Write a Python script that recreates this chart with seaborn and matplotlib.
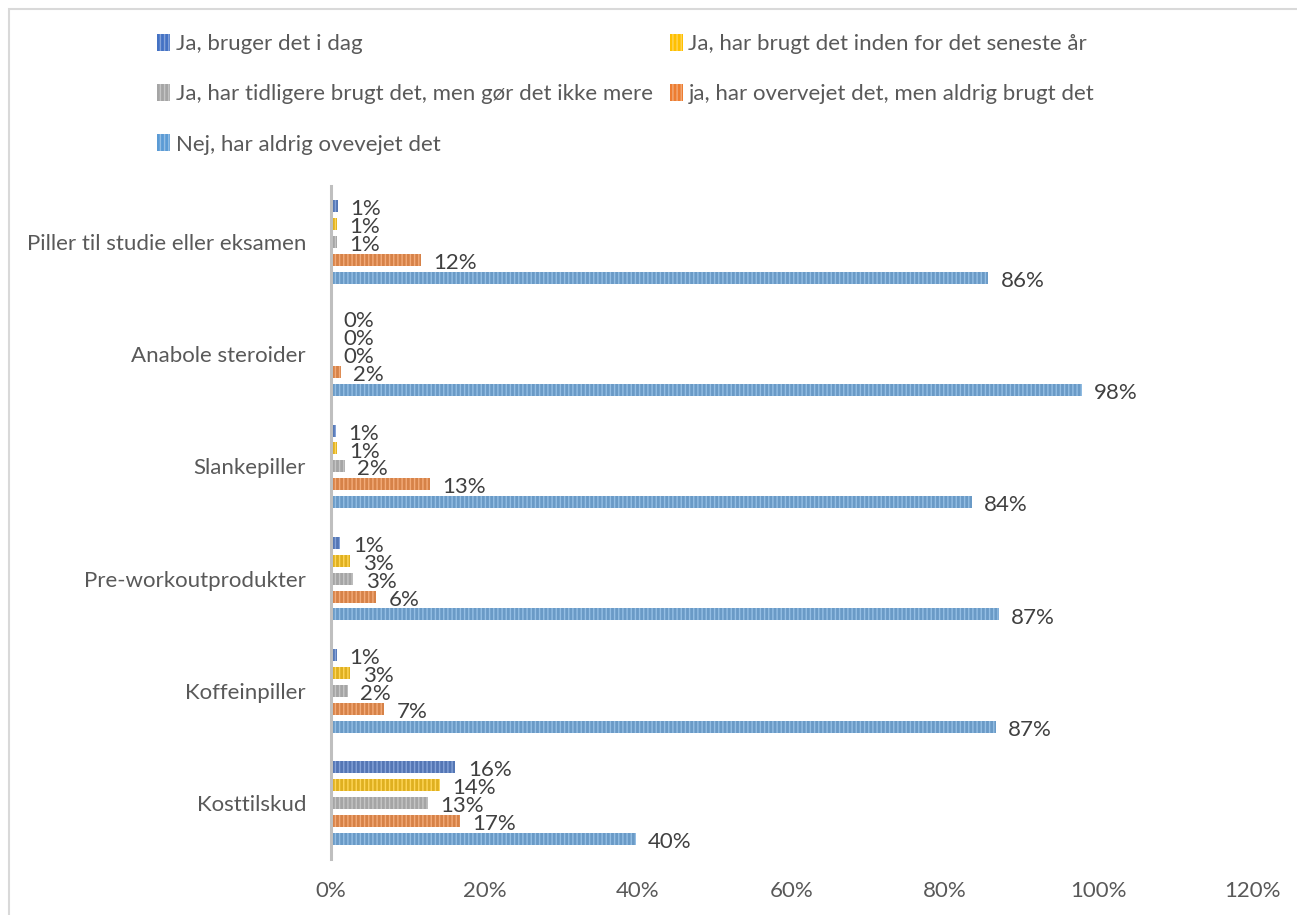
import matplotlib
matplotlib.use("Agg")
import matplotlib.pyplot as plt
import matplotlib.colors as mcolors
from matplotlib.patches import Patch, Rectangle
from matplotlib.ticker import PercentFormatter
import seaborn as sns
import pandas as pd

categories = ["Piller til studie eller eksamen", "Anabole steroider", "Slankepiller",
              "Pre-workoutprodukter", "Koffeinpiller", "Kosttilskud"]
series = ["Ja, bruger det i dag",
          "Ja, har brugt det inden for det seneste år",
          "Ja, har tidligere brugt det, men gør det ikke mere",
          "ja, har overvejet det, men aldrig brugt det",
          "Nej, har aldrig ovevejet det"]
# values (fraction) per series, in category order
v_bruger = [0.009, 0.0, 0.006, 0.012, 0.008, 0.162]
v_seneste = [0.008, 0.0, 0.008, 0.025, 0.025, 0.142]
v_tidligere = [0.008, 0.0, 0.018, 0.029, 0.022, 0.126]
v_overvejet = [0.117, 0.013, 0.129, 0.059, 0.069, 0.168]
v_aldrig = [0.856, 0.978, 0.835, 0.870, 0.866, 0.397]
# data labels as shown
l_bruger = ["1%", "0%", "1%", "1%", "1%", "16%"]
l_seneste = ["1%", "0%", "1%", "3%", "3%", "14%"]
l_tidligere = ["1%", "0%", "2%", "3%", "2%", "13%"]
l_overvejet = ["12%", "2%", "13%", "6%", "7%", "17%"]
l_aldrig = ["86%", "98%", "84%", "87%", "87%", "40%"]

colors = ["#4472C4", "#FFC000", "#A5A5A5", "#ED7D31", "#5B9BD5"]

all_vals = [v_bruger, v_seneste, v_tidligere, v_overvejet, v_aldrig]
all_labels = [l_bruger, l_seneste, l_tidligere, l_overvejet, l_aldrig]

rows = []
for s, vals in zip(series, all_vals):
    for c, v in zip(categories, vals):
        rows.append({"Kategori": c, "Serie": s, "Andel": v})
df = pd.DataFrame(rows)

sns.set_theme(style="white")
plt.rcParams["font.family"] = ["Lato", "DejaVu Sans"]
plt.rcParams["hatch.linewidth"] = 1.0

FS = 16

fig = plt.figure(figsize=(12.97, 9.15), dpi=100)
ax = fig.add_axes([331/1297, 1-859/915, (1252-331)/1297, (859-186)/915])

sns.barplot(data=df, y="Kategori", x="Andel", hue="Serie", order=categories,
            hue_order=series, palette=colors, orient="h", width=0.8, gap=0.33,
            ax=ax, legend=False, linewidth=0)

def lighter(c, f=0.35):
    r, g, b = mcolors.to_rgb(c)
    return (r + (1-r)*f, g + (1-g)*f, b + (1-b)*f)

for cont, col, labs in zip(ax.containers, colors, all_labels):
    for p in cont:
        p.set_hatch("||||")
        p.set_edgecolor(lighter(col))
        p.set_linewidth(0)
    texts = ax.bar_label(cont, labels=labs, padding=9, fontsize=FS, color="#404040")
    for t in texts:
        t.set_va("top")
        t.xyann = (t.xyann[0], 5)

ax.set_xlim(0, 1.2)
ax.set_xticks([0, 0.2, 0.4, 0.6, 0.8, 1.0, 1.2])
ax.xaxis.set_major_formatter(PercentFormatter(1.0, decimals=0))
ax.set_ylim(5.5, -0.5)
ax.set_xlabel("")
ax.set_ylabel("")
for s in ["top", "right", "bottom"]:
    ax.spines[s].set_visible(False)
ax.spines["left"].set_color("#BFBFBF")
ax.spines["left"].set_linewidth(2.2)
ax.tick_params(axis="y", length=0, pad=18, labelsize=FS, labelcolor="#595959")
ax.tick_params(axis="x", length=0, pad=16, labelsize=FS, labelcolor="#595959")

handles = [Patch(facecolor=c, edgecolor=lighter(c), hatch="||||", linewidth=0) for c in colors]
order = [0, 2, 4, 1, 3]
fig.legend([handles[i] for i in order], [series[i] for i in order],
           loc="upper left", bbox_to_anchor=(137/1297, 1-14/915), ncol=2,
           frameon=False, fontsize=FS, handlelength=0.6, handleheight=0.8,
           handletextpad=0.25, labelspacing=1.35, columnspacing=0.75,
           labelcolor="#595959")

fig.patches.append(Rectangle((9/1297, -0.05), 1.2, 1.05 - 9/915, transform=fig.transFigure,
                             fill=False, edgecolor="#D9D9D9", linewidth=1.5))

fig.savefig("out.png", dpi=100, facecolor="white")
